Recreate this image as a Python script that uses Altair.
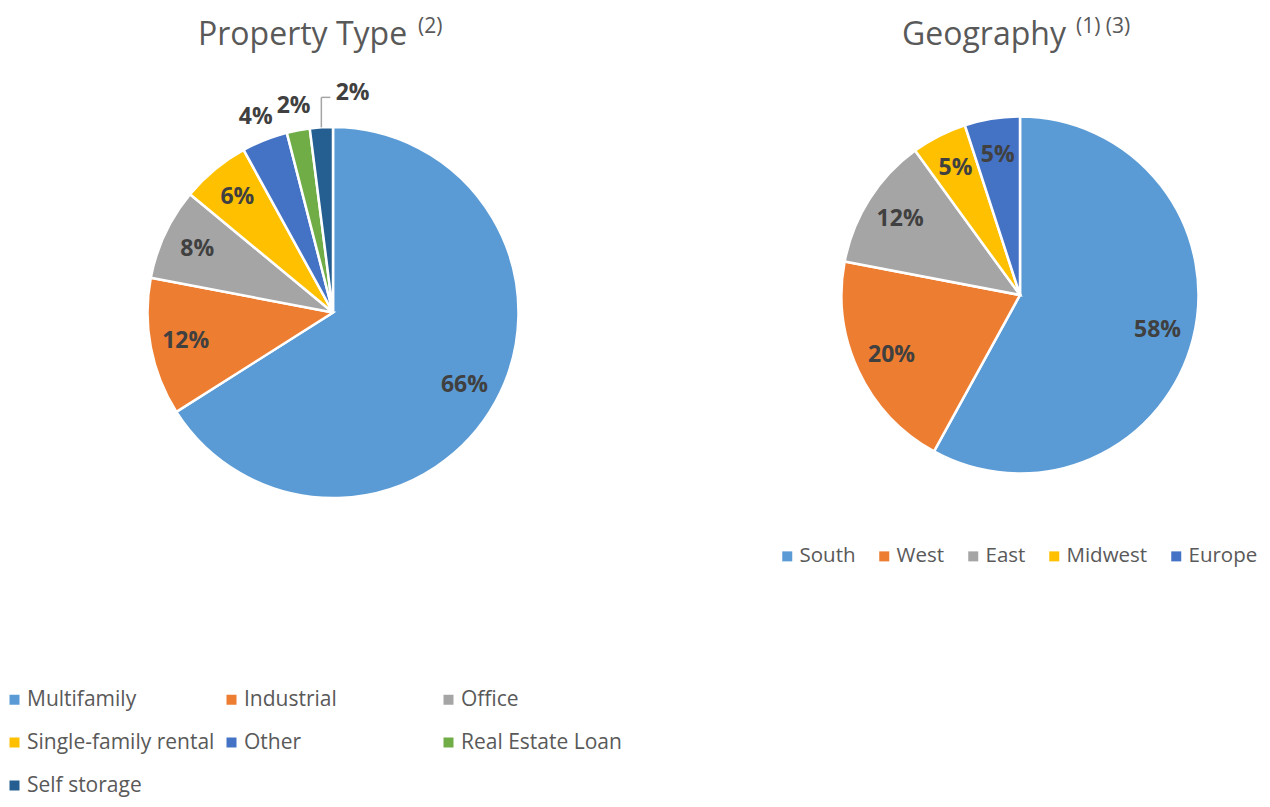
import altair as alt
import pandas as pd

# ---- data ----
prop_cats = ["Multifamily", "Industrial", "Office", "Single-family rental",
             "Other", "Real Estate Loan", "Self storage"]
prop_vals = [66, 12, 8, 6, 4, 2, 2]
prop_colors = ["#5B9BD5", "#ED7D31", "#A5A5A5", "#FFC000",
               "#4472C4", "#70AD47", "#255E91"]

geo_cats = ["South", "West", "East", "Midwest", "Europe"]
geo_vals = [58, 20, 12, 5, 5]
geo_colors = ["#5B9BD5", "#ED7D31", "#A5A5A5", "#FFC000", "#4472C4"]

titles = ["Property Type", "Geography"]
title_notes = ["(2)", "(1) (3)"]

# ---- layout ----
W, H = 1254, 791
FONT = "Open Sans"
LCX, LCY, LR = 325, 304.5, 185.5
RCX, RCY, RR = 1012, 287, 178.5
TXT = "#404040"
GRAY = "#595959"
NCOL = 3

prop_df = pd.DataFrame({"cat": prop_cats, "value": prop_vals,
                        "idx": list(range(len(prop_cats)))})
prop_df["label"] = prop_df["value"].astype(str) + "%"
geo_df = pd.DataFrame({"cat": geo_cats, "value": geo_vals,
                       "idx": list(range(len(geo_cats)))})
geo_df["label"] = geo_df["value"].astype(str) + "%"

# the multi-column legend places domain entry perm[p] in grid slot p;
# reorder the domain so that the entries read row by row like the reference
n = len(prop_cats)
perm = sorted(range(n), key=lambda i: (i % NCOL, i))
dom = [None] * n
for p, k in enumerate(perm):
    dom[k] = prop_cats[p]
color_of = dict(zip(prop_cats, prop_colors))
dom_colors = [color_of[c] for c in dom]


def base(df, cx, cy):
    return alt.Chart(df).encode(
        theta=alt.Theta("value:Q", stack=True),
        order=alt.Order("idx:Q"),
        detail="cat:N",
        x=alt.value(cx), y=alt.value(cy),
    )


left_legend = alt.Legend(
    title=None, orient="none", legendX=-4, legendY=681, columns=NCOL,
    gridAlign="all", symbolType="square", symbolSize=100,
    symbolStrokeWidth=0, labelFontSize=21, labelFont=FONT,
    labelColor=GRAY, columnPadding=6, rowPadding=21, labelLimit=400,
    labelOffset=2, padding=0)

right_legend = alt.Legend(
    title=None, orient="none", direction="horizontal", legendX=769,
    legendY=538, symbolType="square", symbolSize=100, symbolStrokeWidth=0,
    labelFontSize=20.5, labelFont=FONT, labelColor=GRAY, columnPadding=18,
    labelLimit=400, labelOffset=2, padding=0)

LBL = dict(font=FONT, fontSize=23, fontWeight="bold", color=TXT)

lb = base(prop_df, LCX, LCY)
left_arc = lb.mark_arc(outerRadius=LR, stroke="white", strokeWidth=2.5).encode(
    color=alt.Color("cat:N", scale=alt.Scale(domain=dom, range=dom_colors),
                    legend=left_legend))
left_in = lb.transform_calculate(
    t="datum.value >= 5 ? datum.label : ''").mark_text(
    radius=150, **LBL).encode(text="t:N")
left_out = lb.transform_calculate(
    t="datum.value < 5 && datum.cat != 'Self storage' ? datum.label : ''").mark_text(
    radius=210, **LBL).encode(text="t:N")
left_last = lb.transform_calculate(
    t="datum.cat == 'Self storage' ? datum.label : ''").mark_text(
    radius=214, dx=33, dy=-6, **LBL).encode(text="t:N")

leader_src = alt.Chart(prop_df).transform_window(
    cum="sum(value)", sort=[alt.SortField("idx")], frame=[None, 0]
).transform_joinaggregate(total="sum(value)").transform_calculate(
    ang="2*PI*(datum.cum - datum.value/2)/datum.total"
).transform_filter("datum.cat == 'Self storage'").transform_calculate(
    xe=f"{LCX} + {LR}*sin(datum.ang)",
    ye=f"{LCY} - {LR}*cos(datum.ang)",
    ytop=f"{LCY} - {LR}*cos(datum.ang) - 30",
    xr=f"{LCX} + {LR}*sin(datum.ang) + 9",
)
leader_v = leader_src.mark_rule(color="#A5A5A5", strokeWidth=1.5).encode(
    x=alt.X("xe:Q", scale=None, axis=None),
    y=alt.Y("ye:Q", scale=None, axis=None), y2="ytop:Q")
leader_h = leader_src.mark_rule(color="#A5A5A5", strokeWidth=1.5).encode(
    x=alt.X("xe:Q", scale=None, axis=None), x2="xr:Q",
    y=alt.Y("ytop:Q", scale=None, axis=None))

rb = base(geo_df, RCX, RCY)
right_arc = rb.mark_arc(outerRadius=RR, stroke="white", strokeWidth=2.5).encode(
    color=alt.Color("cat:N", scale=alt.Scale(domain=geo_cats, range=geo_colors),
                    sort=geo_cats, legend=right_legend))
right_in = rb.mark_text(radius=142, **LBL).encode(text="label:N")

tdf = pd.DataFrame({"t": titles, "n": title_notes})
TT = dict(font=FONT, fontSize=32, color=GRAY, align="left", baseline="alphabetic")
NT = dict(font=FONT, fontSize=21, color=GRAY, align="left", baseline="alphabetic")
title_l = alt.Chart(tdf).transform_filter("datum.t == 'Property Type'").mark_text(
    **TT).encode(text="t:N", x=alt.value(190), y=alt.value(37))
note_l = alt.Chart(tdf).transform_filter("datum.t == 'Property Type'").mark_text(
    **NT).encode(text="n:N", x=alt.value(410), y=alt.value(25))
title_r = alt.Chart(tdf).transform_filter("datum.t == 'Geography'").mark_text(
    **TT).encode(text="t:N", x=alt.value(894), y=alt.value(37))
note_r = alt.Chart(tdf).transform_filter("datum.t == 'Geography'").mark_text(
    **NT).encode(text="n:N", x=alt.value(1068), y=alt.value(25))

chart = alt.layer(
    left_arc, left_in, left_out, left_last, leader_v, leader_h,
    right_arc, right_in, title_l, note_l, title_r, note_r,
).resolve_scale(color="independent").properties(
    width=W, height=H, padding=0,
    autosize=alt.AutoSizeParams(type="none"),
).configure_view(stroke=None)

chart.save("out.html", embed_options={"renderer": "svg", "actions": False})
